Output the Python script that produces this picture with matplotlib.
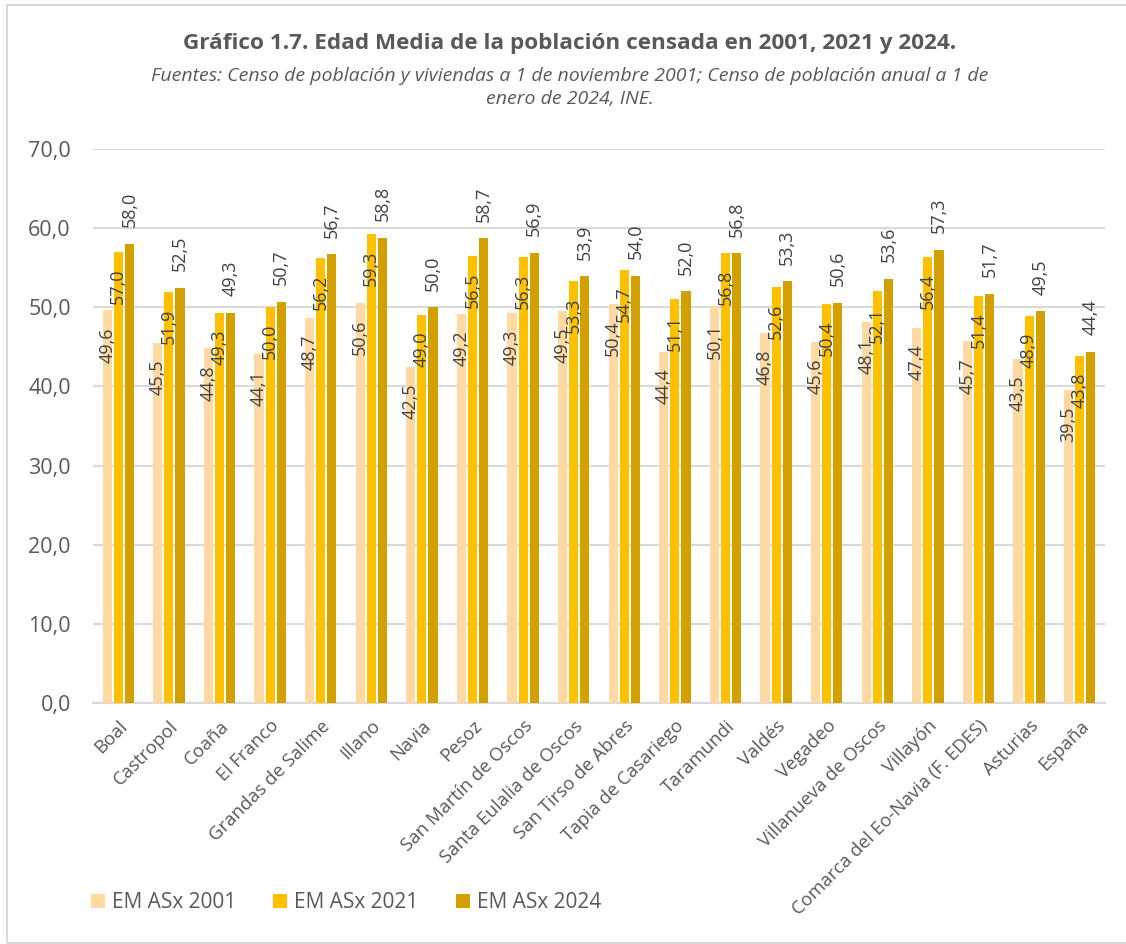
import matplotlib
matplotlib.use("Agg")
import matplotlib.pyplot as plt
from matplotlib.patches import Rectangle
import numpy as np

categories = ["Boal", "Castropol", "Coaña", "El Franco", "Grandas de Salime", "Illano",
              "Navia", "Pesoz", "San Martín de Oscos", "Santa Eulalia de Oscos",
              "San Tirso de Abres", "Tapia de Casariego", "Taramundi", "Valdés",
              "Vegadeo", "Villanueva de Oscos", "Villayón",
              "Comarca del Eo-Navia (F. EDES)", "Asturias", "España"]
em2001 = [49.6, 45.5, 44.8, 44.1, 48.7, 50.6, 42.5, 49.2, 49.3, 49.5,
          50.4, 44.4, 50.1, 46.8, 45.6, 48.1, 47.4, 45.7, 43.5, 39.5]
em2021 = [57.0, 51.9, 49.3, 50.0, 56.2, 59.3, 49.0, 56.5, 56.3, 53.3,
          54.7, 51.1, 56.8, 52.6, 50.4, 52.1, 56.4, 51.4, 48.9, 43.8]
em2024 = [58.0, 52.5, 49.3, 50.7, 56.7, 58.8, 50.0, 58.7, 56.9, 53.9,
          54.0, 52.0, 56.8, 53.3, 50.6, 53.6, 57.3, 51.7, 49.5, 44.4]
series_names = ["EM ASx 2001", "EM ASx 2021", "EM ASx 2024"]
colors = ["#FFD9A1", "#FFC000", "#D4A000"]
yticks = [0, 10, 20, 30, 40, 50, 60, 70]

FONT = ["Open Sans", "DejaVu Sans"]
TXT = "#595959"
plt.rcParams['font.family'] = FONT

W, H = 1126, 944
fig = plt.figure(figsize=(W / 100, H / 100), dpi=100)
fig.patches.append(Rectangle((7 / W, 1 - 943 / H), 1.05, (943 - 5) / H, transform=fig.transFigure,
                             fill=False, edgecolor="#D9D9D9", linewidth=1.5))
ax = fig.add_axes([93 / W, 1 - 703 / H, (1105 - 93) / W, (703 - 149) / H])

x = np.arange(len(categories))
w = 0.18
step = 0.22
data = [em2001, em2021, em2024]
for i, (vals, col, name) in enumerate(zip(data, colors, series_names)):
    xs = x + (i - 1) * step
    ax.bar(xs, vals, width=w, color=col, label=name, zorder=3)
    for xx, v in zip(xs, vals):
        lab = f"{v:.1f}".replace(".", ",")
        if i < 2:
            ax.annotate(lab, (xx, v), xytext=(0, -12), textcoords="offset points",
                        rotation=90, ha="center", va="top", fontsize=13, color="#404040",
                        zorder=4)
        else:
            ax.annotate(lab, (xx, v), xytext=(0, 12), textcoords="offset points",
                        rotation=90, ha="center", va="bottom", fontsize=13, color="#404040",
                        zorder=4)

ax.set_ylim(0, 70)
ax.set_xlim(-0.5, len(categories) - 0.5)
ax.set_yticks(yticks)
ax.set_yticklabels([f"{t:.1f}".replace(".", ",") for t in yticks], fontsize=15.5, color=TXT)
ax.yaxis.grid(True, color="#D9D9D9", linewidth=1.5, zorder=0)
ax.set_axisbelow(True)
ax.tick_params(axis="y", length=0, pad=16)
ax.tick_params(axis="x", length=0, pad=10)
ax.set_xticks(x)
ax.set_xticklabels(categories, rotation=45, ha="right", va="top", rotation_mode="anchor",
                   fontsize=13.3, color=TXT)
for s in ["top", "right", "left"]:
    ax.spines[s].set_visible(False)
ax.spines["bottom"].set_color("#D9D9D9")
ax.spines["bottom"].set_linewidth(1.5)

fig.text(570 / W, 1 - 43 / H, "Gráfico 1.7. Edad Media de la población censada en 2001, 2021 y 2024.",
         ha="center", va="center", fontsize=16.2, fontweight="bold", color=TXT)
fig.text(570 / W, 1 - 76 / H, "Fuentes: Censo de población y viviendas a 1 de noviembre 2001; Censo de población anual a 1 de",
         ha="center", va="center", fontsize=14, style="italic", color=TXT)
fig.text(570 / W, 1 - 99 / H, "enero de 2024, INE.",
         ha="center", va="center", fontsize=14, style="italic", color=TXT)

leg = fig.legend(loc="center left", bbox_to_anchor=(91 / W, 1 - 903 / H), ncol=3, frameon=False,
                 fontsize=15, handlelength=0.67, handleheight=0.67, handletextpad=0.34,
                 columnspacing=1.78, borderpad=0, borderaxespad=0)
for t in leg.get_texts():
    t.set_color(TXT)

fig.savefig("out.png", dpi=100)
